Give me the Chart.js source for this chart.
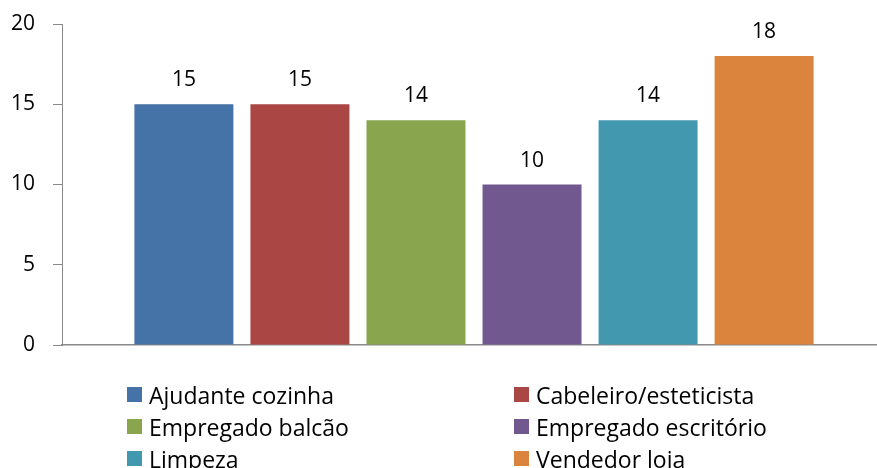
<!DOCTYPE html>
<html>
<head>
<meta charset="utf-8">
<script src="https://cdn.jsdelivr.net/npm/chart.js@4"></script>
<style>
  html, body { margin: 0; padding: 0; background: #fff; overflow: hidden; width: 877px; height: 468px; }
  #wrap { position: absolute; left: 0; top: 0; width: 890px; height: 468px; }
  #legend { position: absolute; left: 0; top: 0; width: 877px; height: 468px; pointer-events: none; }
  .item { position: absolute; display: flex; align-items: center; height: 32px; font-family: "Open Sans", sans-serif; font-size: 23px; color: #000; white-space: nowrap; }
  .sw { width: 15px; height: 15px; margin-right: 7px; flex: none; }
</style>
</head>
<body>
<div id="wrap"><canvas id="c"></canvas></div>
<div id="legend"></div>
<script>
const categories = [''];
const seriesNames = ['Ajudante cozinha', 'Cabeleiro/esteticista', 'Empregado balcão', 'Empregado escritório', 'Limpeza', 'Vendedor loja'];
const seriesValues = [15, 15, 14, 10, 14, 18];
const seriesColors = ['#4572A7', '#AA4643', '#89A54E', '#71588F', '#4198AF', '#DB843D'];
const yTicks = [0, 5, 10, 15, 20];

const datasets = seriesNames.map((name, i) => ({
  label: name,
  data: [seriesValues[i]],
  backgroundColor: seriesColors[i],
  borderWidth: 0,
  categoryPercentage: 0.845,
  barPercentage: 0.853
}));

const valueLabels = {
  id: 'valueLabels',
  afterDatasetsDraw(chart) {
    const ctx = chart.ctx;
    ctx.save();
    ctx.font = '21px "Open Sans", sans-serif';
    ctx.fillStyle = '#000';
    ctx.textAlign = 'center';
    ctx.textBaseline = 'alphabetic';
    chart.data.datasets.forEach((ds, i) => {
      const meta = chart.getDatasetMeta(i);
      meta.data.forEach((el, j) => {
        ctx.fillText(String(ds.data[j]), el.x, el.y - 18);
      });
    });
    ctx.restore();
  }
};

new Chart(document.getElementById('c'), {
  type: 'bar',
  data: { labels: categories, datasets },
  options: {
    responsive: true,
    maintainAspectRatio: false,
    animation: false,
    layout: { padding: { top: 24, right: 4, bottom: 0, left: 0 } },
    plugins: { legend: { display: false }, tooltip: { enabled: false } },
    scales: {
      x: {
        ticks: { display: false },
        grid: { display: false },
        border: { display: true, color: '#898989', width: 1.5 },
        afterFit: (s) => { s.height = 123; s.paddingLeft = 0; s.paddingRight = 0; }
      },
      y: {
        min: yTicks[0],
        max: yTicks[yTicks.length - 1],
        afterBuildTicks: (s) => { s.ticks = yTicks.map(v => ({ value: v })); },
        ticks: { font: { family: 'Open Sans', size: 21 }, color: '#000', padding: 18 },
        grid: { drawOnChartArea: false, drawTicks: true, tickLength: 9, color: '#898989' },
        border: { display: true, color: '#898989' },
        afterFit: (s) => { s.width = 62; s.paddingTop = 0; s.paddingBottom = 0; }
      }
    }
  },
  plugins: [valueLabels]
});

const legend = document.getElementById('legend');
seriesNames.forEach((name, i) => {
  const col = i % 2, row = Math.floor(i / 2);
  const item = document.createElement('div');
  item.className = 'item';
  item.style.left = (col === 0 ? 127 : 514) + 'px';
  item.style.top = (378.5 + row * 32) + 'px';
  const sw = document.createElement('span');
  sw.className = 'sw';
  sw.style.background = seriesColors[i];
  const tx = document.createElement('span');
  tx.textContent = name;
  item.appendChild(sw);
  item.appendChild(tx);
  legend.appendChild(item);
});
</script>
</body>
</html>
